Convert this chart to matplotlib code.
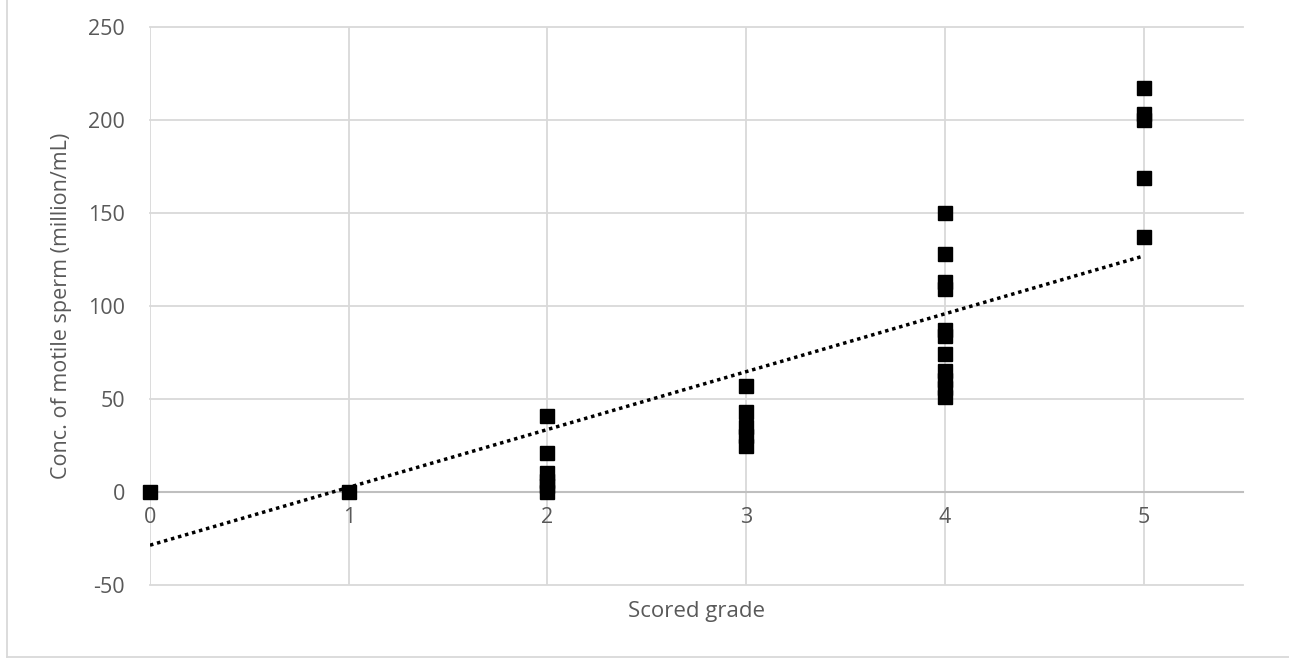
import matplotlib.pyplot as plt
from matplotlib.lines import Line2D

# scored grade vs. concentration of motile sperm (million/mL)
grade_0 = [0]
grade_1 = [0]
grade_2 = [41, 21, 10, 6, 3, 0]
grade_3 = [57, 43, 35, 30, 25]
grade_4 = [150, 128, 113, 109, 87, 84, 74, 65, 60, 56, 51]
grade_5 = [217, 203, 200, 169, 137]
grades = [0, 1, 2, 3, 4, 5]

# linear trendline as drawn on the chart
trend_intercept = -28.6
trend_slope = 31.1

y_ticks = [-50, 0, 50, 100, 150, 200, 250]

text_col = '#595959'
grid_col = '#d9d9d9'
plt.rcParams['font.family'] = ['Open Sans', 'DejaVu Sans']
plt.rcParams['axes.unicode_minus'] = False

fig = plt.figure(figsize=(12.89, 6.62), dpi=100)
ax = fig.add_axes([150/1289, 1-585/662, (1243-150)/1289, (585-27)/662])

groups = [grade_0, grade_1, grade_2, grade_3, grade_4, grade_5]
for g, vals in zip(grades, groups):
    ax.plot([g]*len(vals), vals, linestyle='none', marker='s',
            markersize=10.5, color='black', zorder=4, clip_on=False)

tx = [grades[0], grades[-1]]
ty = [trend_intercept + trend_slope*v for v in tx]
ax.plot(tx, ty, color='black', linestyle=(0, (1, 1.1)), linewidth=2.5, zorder=3)

ax.set_xlim(0, 5.5)
ax.set_ylim(-50, 250)
ax.set_xticks(grades)
ax.set_yticks(y_ticks)
ax.grid(True, color=grid_col, linewidth=1.3)
for gl in ax.get_xgridlines() + ax.get_ygridlines():
    gl.set_clip_on(False)
ax.set_axisbelow(True)

for s in ['top', 'right', 'left']:
    ax.spines[s].set_visible(False)
ax.spines['bottom'].set_position(('data', 0))
ax.spines['bottom'].set_color('#bfbfbf')
ax.spines['bottom'].set_linewidth(1.5)

ax.tick_params(axis='both', length=0, labelsize=15.5, labelcolor=text_col)
ax.tick_params(axis='y', pad=18)
ax.tick_params(axis='x', pad=11)

fig.text(696/1289, 1-612/662, 'Scored grade', ha='center', va='center',
         fontsize=16, color=text_col)
fig.text(62/1289, 1-306/662, 'Conc. of motile sperm (million/mL)', ha='center',
         va='center', rotation=90, fontsize=15.5, color=text_col)

# outer chart border (partly cropped in the original)
fig.add_artist(Line2D([7/1289, 7/1289], [1, 1-657/662], color=grid_col, lw=1.3))
fig.add_artist(Line2D([7/1289, 1], [1-657/662, 1-657/662], color=grid_col, lw=1.3))

plt.savefig('out.png', dpi=100)
